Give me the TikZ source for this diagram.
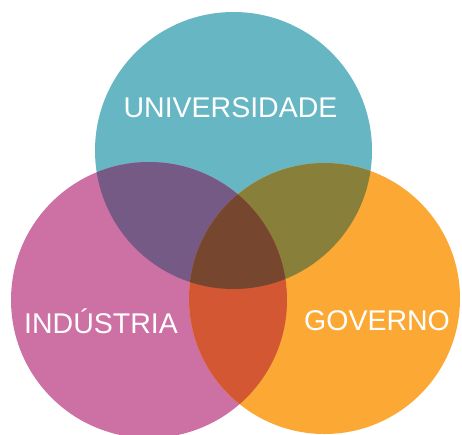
\documentclass[tikz,border=0pt]{standalone}
\usepackage{fontspec}
\setmainfont{Liberation Sans}
\definecolor{uniC}{RGB}{103,182,195}
\definecolor{indC}{RGB}{205,112,164}
\definecolor{govC}{RGB}{251,168,52}
\definecolor{uniInd}{RGB}{116,90,133}
\definecolor{uniGov}{RGB}{136,128,58}
\definecolor{indGov}{RGB}{211,87,50}
\definecolor{allC}{RGB}{118,71,46}
\begin{document}
\begin{tikzpicture}[x=1pt,y=-1pt,
  label/.style={text=white,font=\fontsize{28.5}{30}\selectfont,inner sep=0pt}]
\useasboundingbox (0,0) rectangle (462,434);
\clip (0,0) rectangle (462,434);
% circle centres
\coordinate (U) at (233.5,150.5);
\coordinate (I) at (149,300);
\coordinate (G) at (324.5,298.5);
\def\rU{138.5}
\def\rI{138}
\def\rG{135.5}
% single regions
\fill[uniC] (U) circle[radius=\rU];
\fill[indC] (I) circle[radius=\rI];
\fill[govC] (G) circle[radius=\rG];
% pairwise overlaps
\begin{scope}
  \clip (U) circle[radius=\rU];
  \fill[uniInd] (I) circle[radius=\rI];
  \fill[uniGov] (G) circle[radius=\rG];
\end{scope}
\begin{scope}
  \clip (I) circle[radius=\rI];
  \fill[indGov] (G) circle[radius=\rG];
\end{scope}
% triple overlap
\begin{scope}
  \clip (U) circle[radius=\rU];
  \clip (I) circle[radius=\rI];
  \fill[allC] (G) circle[radius=\rG];
\end{scope}
% labels
\node[label] (uni) at (230.5,108) {UNIVERSIDADE};
\node[label] (ind) at (101,321) {INDÚSTRIA};
\node[label] (gov) at (377,321) {GOVERNO};
\end{tikzpicture}
\end{document}
